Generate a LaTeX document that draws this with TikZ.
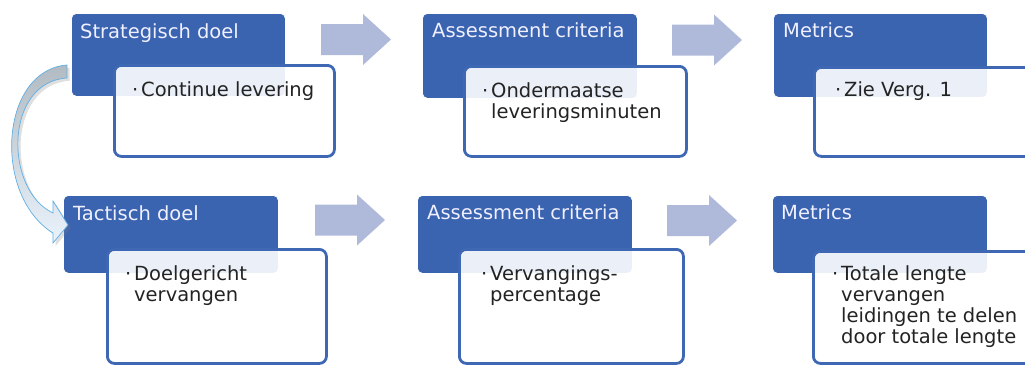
\documentclass[tikz,border=0pt]{standalone}
\usepackage{fontspec}
\setmainfont{DejaVu Sans}
\usetikzlibrary{calc,shadows}

\definecolor{headblue}{RGB}{58,99,176}
\definecolor{rimblue}{RGB}{62,103,180}
\definecolor{flowblue}{RGB}{175,186,219}
\definecolor{curveline}{RGB}{95,175,230}
\definecolor{bodyink}{RGB}{35,35,35}

\tikzset{
    headbox/.style={anchor=north west, inner sep=0pt, fill=headblue, draw=white,
        line width=0.8pt, rounded corners=5pt},
    bodybox/.style={anchor=north west, inner sep=0pt, fill=white, fill opacity=0.9,
        draw=rimblue, line width=2.8pt, rounded corners=7pt},
    headtext/.style={anchor=base west, inner sep=0pt, text=white!94!blue,
        font=\fontsize{19.5}{21}\selectfont},
    bodytext/.style={anchor=base west, inner sep=0pt, text=bodyink,
        font=\fontsize{19.5}{21}\selectfont},
    flowarrow/.style={fill=flowblue},
    curvearrow/.style={draw=curveline, line width=0.7pt,
        top color={rgb,255:red,178;green,186;blue,194},
        bottom color={rgb,255:red,234;green,243;blue,251},
        drop shadow={opacity=0.25}},
}
\newcommand{\bul}{\llap{\textperiodcentered\hspace{3pt}}}
\newcommand{\itemlines}[1]{\begin{tabular}[t]{@{}l@{}}#1\end{tabular}}

\begin{document}
\begin{tikzpicture}[x=1pt, y=-1pt]
\useasboundingbox (0,0) rectangle (1025,365);

% top row
\node[headbox, minimum width=214pt, minimum height=83pt] (strat) at (71,13) {};
\node[headbox, minimum width=215pt, minimum height=85pt] (crit1) at (422,13) {};
\node[headbox, minimum width=214pt, minimum height=84pt] (met1) at (773,13) {};
\node[bodybox, minimum width=220pt, minimum height=91pt] (stratbody) at (113,64) {};
\node[bodybox, minimum width=222pt, minimum height=90pt] (crit1body) at (463,65) {};
\node[bodybox, minimum width=222pt, minimum height=89pt] (met1body) at (813,66) {};

% bottom row
\node[headbox, minimum width=215pt, minimum height=78pt] (tact) at (63,195) {};
\node[headbox, minimum width=215pt, minimum height=78pt] (crit2) at (417,195) {};
\node[headbox, minimum width=215pt, minimum height=78pt] (met2) at (772,195) {};
\node[bodybox, minimum width=219pt, minimum height=114pt] (tactbody) at (106,248) {};
\node[bodybox, minimum width=224pt, minimum height=114pt] (crit2body) at (458,248) {};
\node[bodybox, minimum width=223pt, minimum height=112pt] (met2body) at (812,250) {};

% headings
\node[headtext] (stratlbl) at ($(strat.north west)+(9,25)$) {Strategisch doel};
\node[headtext] (crit1lbl) at ($(crit1.north west)+(10,24)$) {Assessment criteria};
\node[headtext] (met1lbl) at ($(met1.north west)+(10,24)$) {Metrics};
\node[headtext] (tactlbl) at ($(tact.north west)+(10,25)$) {Tactisch doel};
\node[headtext] (crit2lbl) at ($(crit2.north west)+(10,24)$) {Assessment criteria};
\node[headtext] (met2lbl) at ($(met2.north west)+(9,24)$) {Metrics};

% bullet texts
\node[bodytext] (stratitem) at ($(stratbody.north west)+(28,32)$) {\itemlines{\bul Continue levering}};
\node[bodytext] (crit1item) at ($(crit1body.north west)+(28,32)$) {\itemlines{\bul Ondermaatse\\leveringsminuten}};
\node[bodytext] (met1item) at ($(met1body.north west)+(31,30)$) {\itemlines{\bul Zie Verg. 1}};
\node[bodytext] (tactitem) at ($(tactbody.north west)+(28,32)$) {\itemlines{\bul Doelgericht\\vervangen}};
\node[bodytext] (crit2item) at ($(crit2body.north west)+(32,32)$) {\itemlines{\bul Vervangings-\\percentage}};
\node[bodytext] (met2item) at ($(met2body.north west)+(29,30)$) {\itemlines{\bul Totale lengte\\vervangen\\leidingen te delen\\door totale lengte}};

% flow arrows
\foreach \ax/\ay in {321/39.5, 672/40, 315/220, 667/220.5}
    \fill[flowarrow] (\ax,\ay) ++(0,-15.5) -- ++(42,0) -- ++(0,-10) -- ++(28,25.5)
        -- ++(-28,25.5) -- ++(0,-10) -- ++(-42,0) -- cycle;

% strategic to tactical
\draw[curvearrow] (67,65) .. controls (0,70) and (-8,195) .. (53,233) -- (53,243)
    -- (68,225) -- (53,201) -- (53,213) .. controls (4,190) and (4,82) .. (67,78) -- cycle;
\end{tikzpicture}
\end{document}
